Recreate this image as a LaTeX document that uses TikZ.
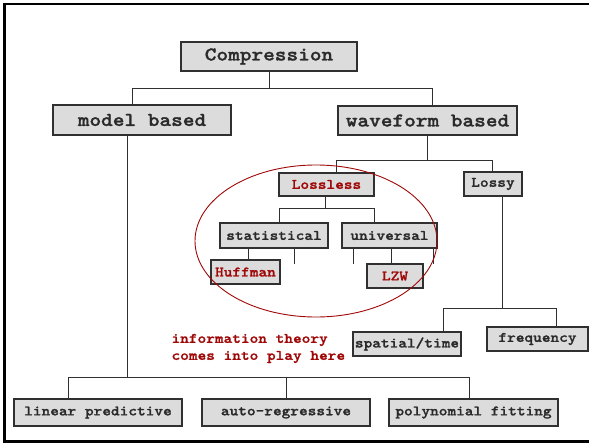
\documentclass[tikz,border=0pt]{standalone}
\usepackage{fontspec}
% slab-serif typewriter face, widened to a 0.6em advance and darkened
\newfontfamily\typer{lmmonolt10-bold.otf}[FakeStretch=1.14,FakeBold=1.3]
\definecolor{boxfill}{HTML}{DCDCDC}
\definecolor{boxline}{HTML}{303030}
\definecolor{ink}{HTML}{2A2A2A}
\definecolor{accent}{HTML}{A00808}
\definecolor{wire}{HTML}{303030}
\begin{document}
\begin{tikzpicture}[x=1pt,y=-1pt,
  box/.style={draw=boxline, fill=boxfill, line width=1.2pt, inner sep=0pt, text=ink},
  big/.style={font=\fontsize{19.5}{22}\selectfont\typer},
  mid/.style={font=\fontsize{14.5}{17}\selectfont\typer},
  hot/.style={text=accent},
  wirel/.style={draw=wire, line width=1pt},
  ]
\useasboundingbox (0,0) rectangle (589,444);

% frame
\draw[line width=2.4pt] (600,4) -- (4.5,4) -- (4.5,441.5) -- (600,441.5);

% boxes
\node[box,big,minimum width=176,minimum height=29] (comp) at (269,56.5) {Compression};
\node[box,big,minimum width=178,minimum height=30] (model) at (142,120) {model based};
\node[box,big,minimum width=179,minimum height=29] (wave) at (427.5,120.5) {waveform based};

\node[box,mid,hot,minimum width=95,minimum height=23] (lossless) at (326.5,184.5) {Lossless};
\node[box,mid,minimum width=58,minimum height=24] (lossy) at (493,184) {Lossy};

\node[box,mid,minimum width=108,minimum height=25] (stat) at (274,235.5) {statistical};
\node[box,mid,minimum width=95,minimum height=25] (univ) at (389.5,235.5) {universal};

\node[box,mid,hot,minimum width=69,minimum height=24] (huff) at (245.5,272) {Huffman};
\node[box,mid,hot,minimum width=56,minimum height=24] (lzw) at (395,276) {LZW};

\node[box,mid,minimum width=108,minimum height=24] (spatial) at (407,344) {spatial/time};
\node[box,mid,minimum width=101,minimum height=24] (freq) at (537.5,339) {frequency};

\node[box,mid,minimum width=168,minimum height=27] (linear) at (98,412.5) {linear predictive};
\node[box,mid,minimum width=168,minimum height=27] (auto) at (286,412.5) {auto-regressive};
\node[box,mid,minimum width=169,minimum height=27] (poly) at (473.5,412.5) {polynomial fitting};

% junction points
\coordinate (c1) at (132,88);  \coordinate (c2) at (432,88);
\coordinate (w0) at (427,160); \coordinate (w1) at (336,160); \coordinate (w2) at (492,160);
\coordinate (l0) at (325,208); \coordinate (l1) at (279,208); \coordinate (l2) at (374,208);
\coordinate (s1) at (248,248); \coordinate (s2) at (294,248); \coordinate (s2e) at (294,264);
\coordinate (u1) at (353,248); \coordinate (u1e) at (353,264);
\coordinate (u2) at (391,248);
\coordinate (u3) at (433,248); \coordinate (u3e) at (433,264);
\coordinate (y0) at (502,308); \coordinate (y1) at (443,308); \coordinate (y2) at (556,308);
\coordinate (m0) at (127,377); \coordinate (m1) at (68,377); \coordinate (m2) at (286,377); \coordinate (m3) at (469,377);

% tree connectors
\draw[wirel] (comp.south) -- (comp.south |- c1);
\draw[wirel] (model.north -| c1) |- (c2) -- (wave.north -| c2);

\draw[wirel] (wave.south -| w0) -- (w0);
\draw[wirel] (lossless.north -| w1) |- (w2) -- (lossy.north -| w2);

\draw[wirel] (lossless.south -| l0) -- (l0);
\draw[wirel] (stat.north -| l1) |- (l2) -- (univ.north -| l2);

\draw[wirel] (s1) -- (huff.north -| s1);
\draw[wirel] (s2) -- (s2e);
\draw[wirel] (u1) -- (u1e);
\draw[wirel] (u2) -- (lzw.north -| u2);
\draw[wirel] (u3) -- (u3e);

\draw[wirel] (lossy.south -| y0) -- (y0);
\draw[wirel] (spatial.north -| y1) |- (y2) -- (freq.north -| y2);

\draw[wirel] (model.south -| m0) -- (m0);
\draw[wirel] (linear.north -| m1) |- (m3) -- (poly.north -| m3);
\draw[wirel] (m2) -- (auto.north -| m2);

% lossless group outline
\draw[accent, line width=0.9pt] (316,241) ellipse [x radius=121, y radius=76];

% annotation
\node[mid, text=accent, align=left, anchor=west] (note) at (168,348.5)
  {information theory\\comes into play here};
\end{tikzpicture}
\end{document}
